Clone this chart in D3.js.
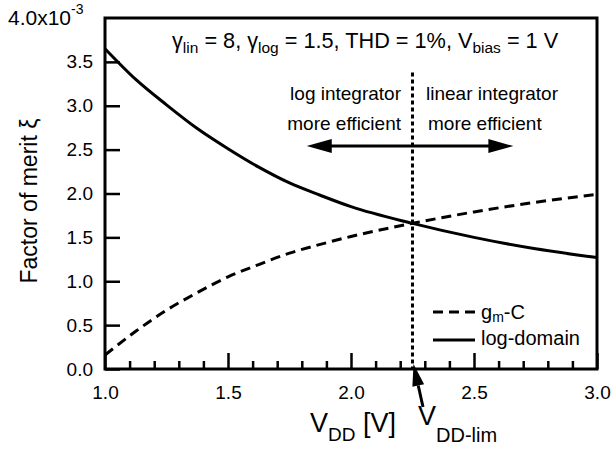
<!DOCTYPE html>
<html>
<head>
<meta charset="utf-8">
<script src="https://cdn.jsdelivr.net/npm/d3@7"></script>
<style>
  body { margin: 0; background: #fff; }
  svg { display: block; font-family: "Liberation Sans", Arial, Helvetica, sans-serif; }
</style>
</head>
<body>
<script>
// Supply voltage V_DD [V]
const vdd = [1.0, 1.125, 1.25, 1.375, 1.5, 1.625, 1.75, 1.875, 2.0, 2.25, 2.5, 2.75, 3.0];
// Factor of merit (x 1e-3) for the gm-C (linear) integrator
const gmC = [0.16, 0.43, 0.67, 0.87, 1.05, 1.19, 1.32, 1.42, 1.51, 1.66, 1.79, 1.90, 1.99];
// Factor of merit (x 1e-3) for the log-domain integrator
const logDomain = [3.65, 3.30, 3.01, 2.74, 2.51, 2.30, 2.12, 1.98, 1.85, 1.66, 1.50, 1.37, 1.27];

const xMajor = [1.0, 1.5, 2.0, 2.5, 3.0];
const xMinor = d3.range(11, 30).map(d => d / 10).filter(d => Math.round(d * 10) % 5 !== 0);
const yTicks = [0.0, 0.5, 1.0, 1.5, 2.0, 2.5, 3.0, 3.5];
const vLim = 2.25;

const W = 613, H = 452;
const svg = d3.select("body").append("svg").attr("width", W).attr("height", H);

const x = d3.scaleLinear().domain([1.0, 3.0]).range([105, 597]);
const y = d3.scaleLinear().domain([0, 4.0]).range([369, 18]);

// Axes (ticks point inward)
const gx = svg.append("g").attr("transform", `translate(0,${y(0)})`)
  .call(d3.axisBottom(x).tickValues(xMajor).tickSize(-16).tickPadding(17).tickFormat(d3.format(".1f")));
const gxm = svg.append("g").attr("transform", `translate(0,${y(0)})`)
  .call(d3.axisBottom(x).tickValues(xMinor).tickSize(-8).tickFormat(""));
const gy = svg.append("g").attr("transform", `translate(${x(1.0)},0)`)
  .call(d3.axisLeft(y).tickValues(yTicks).tickSize(-15).tickPadding(12).tickFormat(d3.format(".1f")));

[gx, gxm, gy].forEach(g => {
  g.select(".domain").remove();
  g.selectAll(".tick line").attr("stroke", "#000").attr("stroke-width", 2.5);
  g.selectAll(".tick text").attr("fill", "#000").attr("font-size", 19)
    .attr("font-family", '"Liberation Sans", Arial, sans-serif');
});

// Top label with the scale multiplier
const topLab = svg.append("text").attr("x", 8).attr("y", 25).attr("font-size", 21).attr("fill", "#000");
topLab.append("tspan").text("4.0x10");
topLab.append("tspan").attr("font-size", 14).attr("dy", -11).text("-3");

// Frame
svg.append("rect")
  .attr("x", x(1.0)).attr("y", y(4.0))
  .attr("width", x(3.0) - x(1.0)).attr("height", y(0) - y(4.0))
  .attr("fill", "none").attr("stroke", "#000").attr("stroke-width", 3);

// Curves
const line = d3.line().x((d, i) => x(vdd[i])).y(d => y(d)).curve(d3.curveMonotoneX);
svg.append("path").datum(gmC).attr("d", line)
  .attr("fill", "none").attr("stroke", "#000").attr("stroke-width", 3).attr("stroke-dasharray", "10,6");
svg.append("path").datum(logDomain).attr("d", line)
  .attr("fill", "none").attr("stroke", "#000").attr("stroke-width", 3);

// Dotted boundary at V_DD-lim
svg.append("line")
  .attr("x1", x(vLim)).attr("x2", x(vLim)).attr("y1", y(3.38)).attr("y2", y(0))
  .attr("stroke", "#000").attr("stroke-width", 3).attr("stroke-dasharray", "4,3");

// Rich text helper: parts with optional vertical offset and size
function rich(px, py, size, parts, anchor) {
  const t = svg.append("text").attr("x", px).attr("y", py).attr("font-size", size)
    .attr("fill", "#000").attr("text-anchor", anchor || "start");
  let cur = 0;
  parts.forEach(p => {
    const off = p.off || 0;
    t.append("tspan").attr("dy", off - cur).attr("font-size", p.size || size).text(p.t);
    cur = off;
  });
  return t;
}

// Parameter header
rich(172, 48, 21.7, [
  { t: "γ" }, { t: "lin", size: 15.5, off: 5 },
  { t: " = 8, γ" }, { t: "log", size: 15.5, off: 5 },
  { t: " = 1.5, THD = 1%, V" }, { t: "bias", size: 15.5, off: 5 },
  { t: " = 1 V" }
]);

// Region annotations
rich(401, 100, 19, [{ t: "log integrator" }], "end");
rich(401, 130, 19, [{ t: "more efficient" }], "end");
rich(426, 100, 19, [{ t: "linear integrator" }], "start");
rich(428, 130, 19, [{ t: "more efficient" }], "start");

// Double-headed arrow
const ay = y(2.54), aL = x(1.82), aR = x(2.66), head = 25, hw = 7;
svg.append("line").attr("x1", aL + head - 2).attr("x2", aR - head + 2).attr("y1", ay).attr("y2", ay)
  .attr("stroke", "#000").attr("stroke-width", 3);
svg.append("path").attr("d", `M${aL},${ay} L${aL + head},${ay - hw} L${aL + head},${ay + hw} Z`).attr("fill", "#000");
svg.append("path").attr("d", `M${aR},${ay} L${aR - head},${ay - hw} L${aR - head},${ay + hw} Z`).attr("fill", "#000");

// Arrow pointing to V_DD-lim on the axis
{
  const tx = x(vLim) + 1, ty = 364, bx = 423, by = 407;
  const ang = Math.atan2(ty - by, tx - bx);
  const hl = 22, hwid = 6;
  const ux = Math.cos(ang), uy = Math.sin(ang);
  const baseX = tx - ux * hl, baseY = ty - uy * hl;
  svg.append("line").attr("x1", bx).attr("y1", by).attr("x2", baseX).attr("y2", baseY)
    .attr("stroke", "#000").attr("stroke-width", 3);
  svg.append("path").attr("d",
    `M${tx},${ty} L${baseX - uy * hwid},${baseY + ux * hwid} L${baseX + uy * hwid},${baseY - ux * hwid} Z`)
    .attr("fill", "#000");
}

// Axis titles
rich(310, 432, 27, [{ t: "V" }, { t: "DD", size: 19, off: 9 }, { t: " [V]" }]);
rich(418, 425, 27, [{ t: "V" }, { t: "DD-lim", size: 20, off: 17 }]);
svg.append("text").attr("transform", "translate(37,201) rotate(-90)")
  .attr("text-anchor", "middle").attr("font-size", 23).attr("fill", "#000")
  .text("Factor of merit ξ");

// Legend
const lg = [
  { label: [{ t: "g" }, { t: "m", size: 14, off: 3 }, { t: "-C" }], dash: "10,6", ly: 312, ty: 319 },
  { label: [{ t: "log-domain" }], dash: null, ly: 340, ty: 345 }
];
lg.forEach(d => {
  svg.append("line").attr("x1", 433).attr("x2", 475).attr("y1", d.ly).attr("y2", d.ly)
    .attr("stroke", "#000").attr("stroke-width", 3).attr("stroke-dasharray", d.dash);
  rich(481, d.ty, 20, d.label);
});
</script>
</body>
</html>
